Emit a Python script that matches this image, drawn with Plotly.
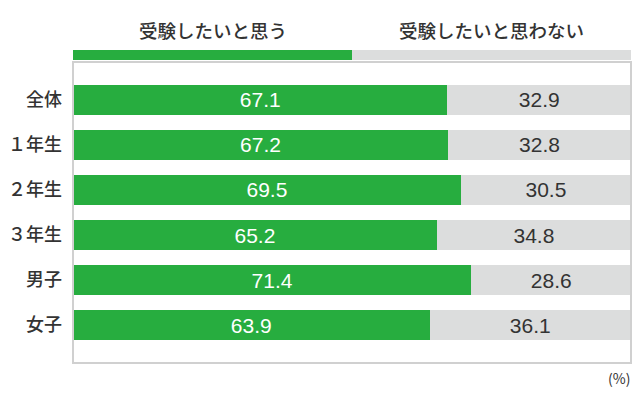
import plotly.graph_objects as go

categories = ["全体", "１年生", "２年生", "３年生", "男子", "女子"]
want = [67.1, 67.2, 69.5, 65.2, 71.4, 63.9]
not_want = [32.9, 32.8, 30.5, 34.8, 28.6, 36.1]
series_names = ["受験したいと思う", "受験したいと思わない"]

GREEN = "#27ad3f"
GRAY = "#dcdddd"
TEXT = "#333333"
FONT = "Noto Sans CJK JP"
NUMFONT = "Liberation Sans, Arial, sans-serif"

fig = go.Figure()
fig.add_trace(go.Bar(
    y=categories, x=want, orientation="h", name=series_names[0],
    marker=dict(color=GREEN, line=dict(width=0)),
    text=[f"{v:.1f}" for v in want], textposition="inside",
    insidetextanchor="middle", textfont=dict(color="white", size=21, family=NUMFONT),
    width=0.667,
))
fig.add_trace(go.Bar(
    y=categories, x=not_want, orientation="h", name=series_names[1],
    marker=dict(color=GRAY, line=dict(width=0)),
    text=[f"{v:.1f}" for v in not_want], textposition="inside",
    insidetextanchor="middle", textfont=dict(color=TEXT, size=21, family=NUMFONT),
    width=0.667,
))

H = 301.0  # plot height in px
def py(pix):
    return (363 - pix) / H

fig.update_layout(
    width=640, height=400,
    margin=dict(l=73, r=9, t=62, b=37),
    barmode="stack",
    showlegend=False,
    plot_bgcolor="white", paper_bgcolor="white",
    font=dict(family=FONT, color=TEXT),
    xaxis=dict(range=[0, 100], visible=False, fixedrange=True),
    yaxis=dict(
        categoryorder="array", categoryarray=categories,
        range=[5.84, -0.84], showgrid=False, zeroline=False,
        ticks="", tickfont=dict(size=18, color=TEXT, family=FONT, weight=500),
        ticklabelstandoff=10,
    ),
    uniformtext=dict(mode=False),
    shapes=[
        dict(type="rect", xref="paper", yref="paper", x0=0, x1=1, y0=0, y1=1,
             line=dict(color="#d0d0d0", width=2), layer="above"),
        dict(type="rect", xref="paper", yref="paper", x0=0, x1=0.5,
             y0=py(60), y1=py(50), fillcolor=GREEN, line=dict(width=0)),
        dict(type="rect", xref="paper", yref="paper", x0=0.5, x1=1.0,
             y0=py(60), y1=py(50), fillcolor=GRAY, line=dict(width=0)),
    ],
    annotations=[
        dict(text=series_names[0], xref="paper", yref="paper", x=0.25, y=py(30),
             showarrow=False, font=dict(size=18.5, color=TEXT, family=FONT, weight=500),
             xanchor="center", yanchor="middle"),
        dict(text=series_names[1], xref="paper", yref="paper", x=0.75, y=py(30),
             showarrow=False, font=dict(size=18.5, color=TEXT, family=FONT, weight=500),
             xanchor="center", yanchor="middle"),
        dict(text="(%)", xref="paper", yref="paper", x=1.002, y=py(378),
             showarrow=False, font=dict(size=14, color=TEXT, family=FONT),
             xanchor="right", yanchor="middle"),
    ],
)

fig.write_html("out.html")
